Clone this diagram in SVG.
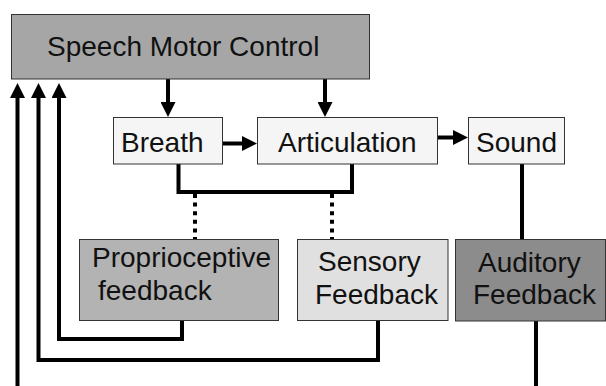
<svg xmlns="http://www.w3.org/2000/svg" width="606" height="386" viewBox="0 0 606 386">
<style>
.box{stroke:#333;stroke-width:1}
.t{font-family:"Liberation Sans",Arial,sans-serif;font-size:28px;fill:#111}
.c{fill:none;stroke:#000;stroke-width:4}
.d{fill:none;stroke:#000;stroke-width:4;stroke-dasharray:4 4.6}
</style>
<defs>
<marker id="ah" markerUnits="userSpaceOnUse" markerWidth="15" markerHeight="15" refX="7" refY="7.5" orient="auto">
<path d="M0,0 L15,7.5 L0,15 z" fill="#000"/>
</marker>
</defs>
<rect width="606" height="386" fill="#fff"/>
<g id="connectors">
<line class="c" x1="168" y1="79" x2="168" y2="109" marker-end="url(#ah)"/>
<line class="c" x1="325" y1="79" x2="325" y2="109" marker-end="url(#ah)"/>
<line class="c" x1="223" y1="143.5" x2="249" y2="143.5" marker-end="url(#ah)"/>
<line class="c" x1="437" y1="137.5" x2="460" y2="137.5" marker-end="url(#ah)"/>
<path class="c" d="M178.5,164 V192 H352 V164"/>
<line class="d" x1="195" y1="194" x2="195" y2="239"/>
<line class="d" x1="332" y1="194" x2="332" y2="239"/>
<line class="c" x1="522" y1="164" x2="522" y2="240"/>
<path class="c" d="M182,320 V339 H59 V91" marker-end="url(#ah)"/>
<path class="c" d="M378,321 V360 H38.5 V91" marker-end="url(#ah)"/>
<path class="c" d="M536,321 V400 H17.5 V91" marker-end="url(#ah)"/>
</g>
<g id="smc">
<rect class="box" x="11.5" y="14.5" width="358" height="64.5" fill="#a6a6a6"/>
<text class="t" x="47" y="56">Speech Motor Control</text>
</g>
<g id="breath">
<rect class="box" x="113.5" y="117.5" width="109" height="46.5" fill="#f5f5f5"/>
<text class="t" x="121" y="152">Breath</text>
</g>
<g id="articulation">
<rect class="box" x="257.5" y="117.5" width="180" height="46.5" fill="#f5f5f5"/>
<text class="t" x="278" y="152">Articulation</text>
</g>
<g id="sound">
<rect class="box" x="468.5" y="117.5" width="96" height="46.5" fill="#f5f5f5"/>
<text class="t" x="476" y="152">Sound</text>
</g>
<g id="proprioceptive">
<rect class="box" x="79.5" y="239.5" width="199" height="81" fill="#b3b3b3"/>
<text class="t" x="92" y="267">Proprioceptive</text>
<text class="t" x="98" y="300">feedback</text>
</g>
<g id="sensory">
<rect class="box" x="297.5" y="239.5" width="150.5" height="81" fill="#e0e0e0"/>
<text class="t" x="318" y="271">Sensory</text>
<text class="t" x="315" y="304">Feedback</text>
</g>
<g id="auditory">
<rect class="box" x="455.5" y="239.5" width="150" height="81.5" fill="#8c8c8c"/>
<text class="t" x="478" y="272">Auditory</text>
<text class="t" x="473" y="304">Feedback</text>
</g>
</svg>
